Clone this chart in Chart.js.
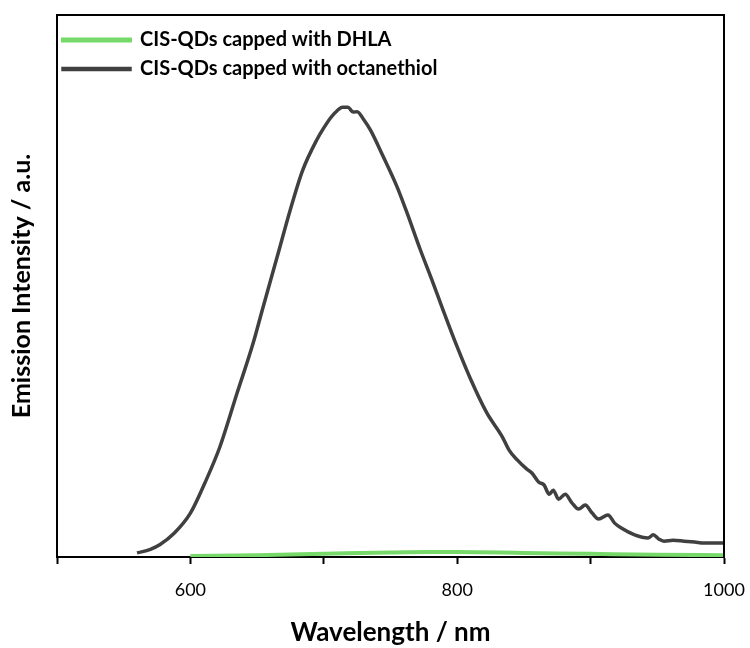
<!DOCTYPE html>
<html>
<head>
<meta charset="utf-8">
<script src="https://cdn.jsdelivr.net/npm/chart.js@4.4.1/dist/chart.umd.min.js"></script>
<style>
html,body{margin:0;padding:0;background:#fff;}
#wrap{width:750px;height:648px;}
</style>
</head>
<body>
<div id="wrap"><canvas id="c" width="750" height="648"></canvas></div>
<script>
// Octanethiol-capped CIS-QDs emission (normalised)
const octWavelength = [560,570,577,588,600,611,622,635,647,654,665,675,684,695,700,705,710,714,718,722,725,730,735,744,755,762,772,782,789,800,810,822,834,839,845,852,856,861,865,869,872,876,881,886,891,896,901,906,913,918,923,933,943,947,951,955,962,970,978,985,993,1000];
const octIntensity  = [0.009,0.017,0.027,0.053,0.097,0.165,0.243,0.363,0.473,0.548,0.664,0.770,0.855,0.925,0.950,0.972,0.988,0.996,0.996,0.985,0.986,0.968,0.945,0.890,0.819,0.765,0.683,0.606,0.550,0.465,0.394,0.320,0.265,0.236,0.215,0.195,0.186,0.166,0.160,0.139,0.148,0.128,0.139,0.120,0.106,0.115,0.098,0.084,0.093,0.075,0.064,0.049,0.042,0.049,0.040,0.035,0.037,0.035,0.033,0.031,0.031,0.031];
// DHLA-capped CIS-QDs emission
const dhlaWavelength = [600,650,700,750,780,800,850,900,950,1000];
const dhlaIntensity  = [0.002,0.004,0.007,0.010,0.011,0.011,0.009,0.007,0.005,0.004];
// axis ticks
const xTickLabels = [600,800,1000];
const seriesNames = ['CIS-QDs capped with DHLA','CIS-QDs capped with octanethiol'];

const FONT = 'Lato';

const framePlugin = {
  id: 'frame',
  afterDraw(chart){
    const {ctx, chartArea:a} = chart;
    ctx.save();
    ctx.strokeStyle = '#000';
    ctx.lineWidth = 2;
    ctx.beginPath();
    ctx.moveTo(a.left, a.top); ctx.lineTo(a.right, a.top); ctx.lineTo(a.right, a.bottom);
    ctx.stroke();
    ctx.restore();
  }
};
const legendShift = {
  id: 'legendShift',
  afterLayout(chart){
    const lg = chart.legend;
    if (lg){ lg.left = 54; lg.top = 21; }
  }
};

new Chart(document.getElementById('c'), {
  type: 'line',
  data: {
    datasets: [
      {
        label: seriesNames[0],
        data: dhlaWavelength.map((w,i)=>({x:w,y:dhlaIntensity[i]})),
        borderColor: '#77d96a', backgroundColor: '#77d96a',
        borderWidth: 4, pointRadius: 0, cubicInterpolationMode: 'monotone'
      },
      {
        label: seriesNames[1],
        data: octWavelength.map((w,i)=>({x:w,y:octIntensity[i]})),
        borderColor: '#404040', backgroundColor: '#404040',
        borderWidth: 3.5, pointRadius: 0, cubicInterpolationMode: 'monotone'
      }
    ]
  },
  options: {
    responsive: false,
    animation: false,
    layout: { padding: { top: 15, right: 26, left: 0, bottom: 0 } },
    plugins: {
      tooltip: { enabled: false },
      legend: {
        position: 'chartArea',
        align: 'start',
        labels: {
          boxWidth: 67, boxHeight: 1, padding: 9,
          color: '#000',
          font: { family: FONT, size: 20, weight: 'bold' }
        }
      }
    },
    scales: {
      x: {
        type: 'linear', min: 500, max: 1000,
        afterFit(s){ s.height = 91; s.paddingLeft = 0; s.paddingRight = 0; },
        border: { display: true, color: '#000', width: 2 },
        grid: { display: true, drawOnChartArea: false, tickLength: 7, tickColor: '#000', tickWidth: 2 },
        ticks: {
          stepSize: 100, padding: 15, color: '#000', maxRotation: 0,
          font: { family: FONT, size: 18 },
          callback: v => xTickLabels.includes(v) ? String(v) : ''
        },
        title: { display: true, text: 'Wavelength / nm', color: '#000',
          font: { family: FONT, size: 26, weight: 'bold' }, padding: { top: 0, bottom: 0 } }
      },
      y: {
        min: 0, max: 1.2,
        afterFit(s){ s.width = 57; },
        border: { display: true, color: '#000', width: 2 },
        grid: { display: false },
        ticks: { display: false },
        title: { display: true, text: 'Emission Intensity / a.u.', color: '#000',
          font: { family: FONT, size: 25, weight: 'bold' }, padding: { top: 7, bottom: 0 } }
      }
    }
  },
  plugins: [framePlugin, legendShift]
});
</script>
</body>
</html>
